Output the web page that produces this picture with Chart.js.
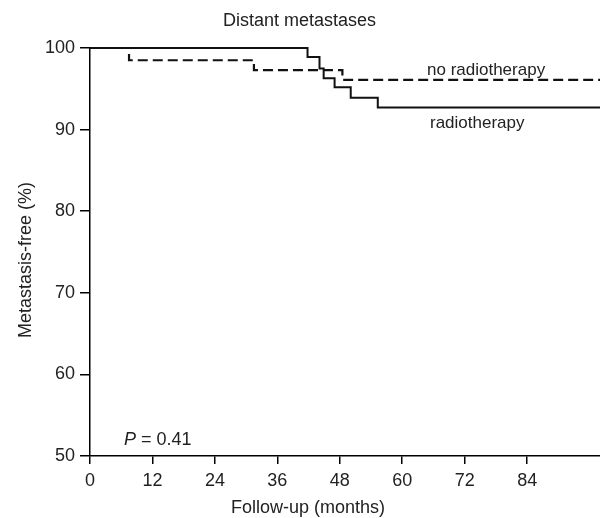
<!DOCTYPE html>
<html>
<head>
<meta charset="utf-8">
<script src="https://cdn.jsdelivr.net/npm/chart.js@4/dist/chart.umd.min.js"></script>
<style>
html,body{margin:0;padding:0;background:#fff;}
#c{display:block;}
</style>
</head>
<body>
<canvas id="c" width="600" height="518"></canvas>
<script>
// Data
const radMonths = [0, 41.8, 44.1, 44.9, 47.0, 50.1, 55.3, 98];
const radSurv   = [100, 98.9, 97.5, 96.3, 95.2, 93.9, 92.7, 92.7];
const noMonths  = [0, 7.5, 31.5, 48.5, 98];
const noSurv    = [100, 98.5, 97.3, 96.1, 96.1];
const xTickVals = [0, 12, 24, 36, 48, 60, 72, 84];
const yTickVals = [50, 60, 70, 80, 90, 100];
const seriesNames = ['radiotherapy', 'no radiotherapy'];
const chartTitle = 'Distant metastases';
const xTitle = 'Follow-up (months)';
const yTitle = 'Metastasis-free (%)';

const FAM = '"Liberation Sans", Arial, Helvetica, sans-serif';
const TXT = '#222';

const textPlugin = {
  id: 'texts',
  afterDraw(chart) {
    const ctx = chart.ctx;
    ctx.save();
    ctx.fillStyle = TXT;
    ctx.textBaseline = 'alphabetic';
    // title
    ctx.font = '18px ' + FAM;
    ctx.textAlign = 'left';
    ctx.fillText(chartTitle, 223, 26);
    // x axis title
    ctx.textAlign = 'center';
    ctx.fillText(xTitle, 308, 513);
    // y axis title
    ctx.save();
    ctx.translate(31, 260);
    ctx.rotate(-Math.PI / 2);
    ctx.fillText(yTitle, 0, 0);
    ctx.restore();
    // series labels
    ctx.font = '17px ' + FAM;
    ctx.textAlign = 'left';
    ctx.fillText(seriesNames[1], 427, 75);
    ctx.fillText(seriesNames[0], 430, 128);
    // P value
    ctx.font = 'italic 18px ' + FAM;
    ctx.fillText('P', 124, 445);
    const pw = ctx.measureText('P').width;
    ctx.font = '18px ' + FAM;
    ctx.fillText(' = 0.41', 124 + pw, 445);
    ctx.restore();
  }
};

const toPts = (xsArr, ysArr) => xsArr.map((m, i) => ({x: m, y: ysArr[i]}));

new Chart(document.getElementById('c'), {
  type: 'line',
  data: {
    datasets: [
      {
        label: seriesNames[0],
        data: toPts(radMonths, radSurv),
        stepped: 'before',
        borderColor: '#111',
        borderWidth: 2,
        pointRadius: 0,
        fill: false,
        clip: 3
      },
      {
        label: seriesNames[1],
        data: toPts(noMonths, noSurv),
        stepped: 'before',
        borderColor: '#111',
        borderWidth: 2.2,
        borderDash: [10, 5],
        pointRadius: 0,
        fill: false,
        clip: 3
      }
    ]
  },
  options: {
    responsive: false,
    animation: false,
    devicePixelRatio: 1,
    layout: {padding: {top: 48, left: 0, right: 0, bottom: 0}},
    plugins: {legend: {display: false}, title: {display: false}, tooltip: {enabled: false}},
    scales: {
      x: {
        type: 'linear',
        min: 0,
        max: 98,
        afterBuildTicks: s => { s.ticks = xTickVals.map(v => ({value: v})); },
        afterFit: s => { s.height = 62; },
        grid: {drawOnChartArea: false, drawTicks: true, tickLength: 8, color: '#000', lineWidth: 1.5},
        border: {display: true, color: '#000', width: 1.5},
        ticks: {font: {size: 18, family: FAM}, color: TXT, padding: 6, maxRotation: 0, autoSkip: false}
      },
      y: {
        min: 50,
        max: 100,
        afterBuildTicks: s => { s.ticks = yTickVals.map(v => ({value: v})); },
        afterFit: s => { s.width = 90; },
        grid: {drawOnChartArea: false, drawTicks: true, tickLength: 10, color: '#000', lineWidth: 1.5},
        border: {display: true, color: '#000', width: 1.5},
        ticks: {font: {size: 18, family: FAM}, color: TXT, padding: 5, autoSkip: false}
      }
    }
  },
  plugins: [textPlugin]
});
</script>
</body>
</html>
